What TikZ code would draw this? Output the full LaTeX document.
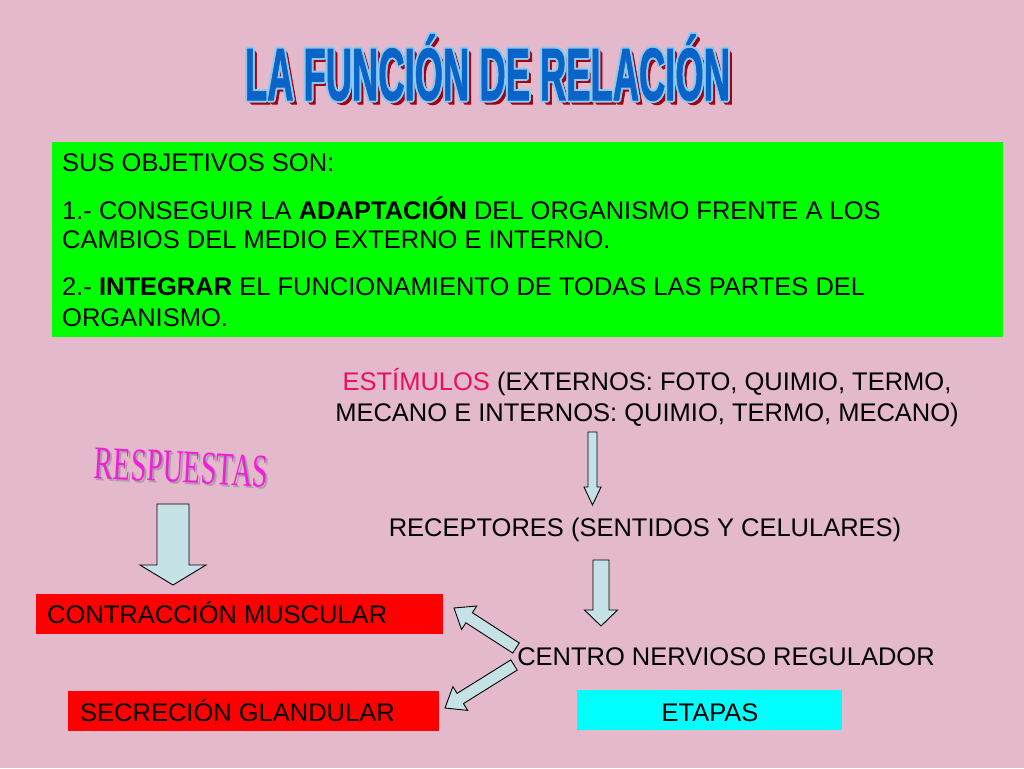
\documentclass[tikz,border=0pt]{standalone}
\usepackage{fontspec}
\setmainfont{Liberation Sans}
\newfontfamily\wordartserif{Liberation Serif}
\newfontfamily\titlefont{Liberation Sans Bold}[FakeBold=1.5]
\usetikzlibrary{calc}
\definecolor{bg}{HTML}{E3B9CB}
\definecolor{boxgreen}{HTML}{00FF00}
\definecolor{boxred}{HTML}{FF0000}
\definecolor{boxcyan}{HTML}{00FFFF}
\definecolor{arrowfill}{HTML}{C5E3E6}
\definecolor{stimred}{HTML}{E8115C}
\definecolor{titleblue}{HTML}{0A63C6}
\definecolor{titleline}{HTML}{8CC8F0}
\definecolor{titleshadow}{HTML}{A00010}
\definecolor{wamagenta}{HTML}{F020D8}
\definecolor{washadow}{HTML}{A8A0A8}
\newcommand{\titletext}{\resizebox{485pt}{\height}{\titlefont\fontsize{74}{74}\selectfont LA FUNCIÓN DE RELACIÓN}}
\newcommand{\resptext}{\resizebox{174pt}{31pt}{\wordartserif\fontsize{40}{40}\selectfont RESPUESTAS}}
\newcommand{\blockarrow}[6]{%
  \coordinate (#1p) at ($(#3)!#6!(#2)$);
  \draw[barrowstyle] ($(#2)!#4!90:(#3)$) -- ($(#1p)!#4!90:(#3)$) -- ($(#1p)!#5!90:(#3)$)
    -- (#3) -- ($(#1p)!#5!-90:(#3)$) -- ($(#1p)!#4!-90:(#3)$) -- ($(#2)!#4!-90:(#3)$) -- cycle;}
\tikzset{
  txt/.style={inner sep=0pt, font=\fontsize{25.5}{29}\selectfont, text=black},
  barrowstyle/.style={fill=arrowfill, draw=black, line width=0.9pt, line join=miter},
  flatbox/.style={inner sep=0pt, anchor=north west},
}
\begin{document}
\begin{tikzpicture}[x=1pt,y=-1pt]
\fill[bg] (0,0) rectangle (1024,768);
\useasboundingbox (0,0) rectangle (1024,768);

% title
\foreach \k in {1,...,5}{
  \node[inner sep=0pt, anchor=base, text=titleshadow] (tsh\k) at (487.5+\k*0.8,100+\k*0.8) {\titletext};}
\foreach \dx/\dy [count=\i] in {2/0,-2/0,0/2,0/-2,1.4/1.4,-1.4/1.4,1.4/-1.4,-1.4/-1.4}{
  \node[inner sep=0pt, anchor=base, text=titleline] (tol\i) at (487.5+\dx,100+\dy) {\titletext};}
\node[inner sep=0pt, anchor=base, text=titleblue] (title) at (487.5,100) {\titletext};

% objectives box
\node[flatbox, fill=boxgreen, minimum width=951pt, minimum height=195pt] (objbox) at (52,142) {};
\node[txt, anchor=base west] (o1) at (62,171) {SUS OBJETIVOS SON:};
\node[txt, anchor=base west] (o2) at (62,219) {1.- CONSEGUIR LA \textbf{ADAPTACIÓN} DEL ORGANISMO FRENTE A LOS};
\node[txt, anchor=base west] (o3) at (62,248) {CAMBIOS DEL MEDIO EXTERNO E INTERNO.};
\node[txt, anchor=base west] (o4) at (62,295) {2.- \textbf{INTEGRAR} EL FUNCIONAMIENTO DE TODAS LAS PARTES DEL};
\node[txt, anchor=base west] (o5) at (62,326) {ORGANISMO.};

% stimuli chain
\node[txt, anchor=base] (est1) at (647,390) {\textcolor{stimred}{ESTÍMULOS} (EXTERNOS: FOTO, QUIMIO, TERMO,};
\node[txt, anchor=base] (est2) at (647,421) {MECANO E INTERNOS: QUIMIO, TERMO, MECANO)};
\node[txt, anchor=base] (rec) at (645,536) {RECEPTORES (SENTIDOS Y CELULARES)};
\node[txt, anchor=base] (cen) at (726,665) {CENTRO NERVIOSO REGULADOR};

\coordinate (a1s) at (592.5,432);
\coordinate (a1e) at (592.5,505);
\blockarrow{a1}{a1s}{a1e}{4.5pt}{8.5pt}{18pt}
\coordinate (a2s) at (601,560);
\coordinate (a2e) at (601,626);
\blockarrow{a2}{a2s}{a2e}{8pt}{16.5pt}{16pt}

% responses
\node[inner sep=0pt, rotate=-3, text=washadow] (respsh) at (183.5,469.5) {\resptext};
\node[inner sep=0pt, rotate=-3, text=wamagenta] (resp) at (181.5,467.5) {\resptext};
\coordinate (a3s) at (173,504);
\coordinate (a3e) at (173,585);
\blockarrow{a3}{a3s}{a3e}{16pt}{33pt}{20pt}

\node[flatbox, fill=boxred, minimum width=407pt, minimum height=40pt] (musc) at (36,594) {};
\node[txt, anchor=base west] (musct) at (47,623) {CONTRACCIÓN MUSCULAR};
\node[flatbox, fill=boxred, minimum width=371pt, minimum height=40pt] (glan) at (68,691) {};
\node[txt, anchor=base west] (glant) at (80,721) {SECRECIÓN GLANDULAR};
\node[flatbox, fill=boxcyan, minimum width=265pt, minimum height=40pt] (etap) at (577,690) {};
\node[txt, anchor=base] (etapt) at (710,721) {ETAPAS};

\coordinate (a4s) at (516,648);
\coordinate (a4e) at (454,608);
\blockarrow{a4}{a4s}{a4e}{6pt}{14pt}{18pt}
\coordinate (a5s) at (514,665);
\coordinate (a5e) at (445,708);
\blockarrow{a5}{a5s}{a5e}{6pt}{14pt}{18pt}
\end{tikzpicture}
\end{document}
